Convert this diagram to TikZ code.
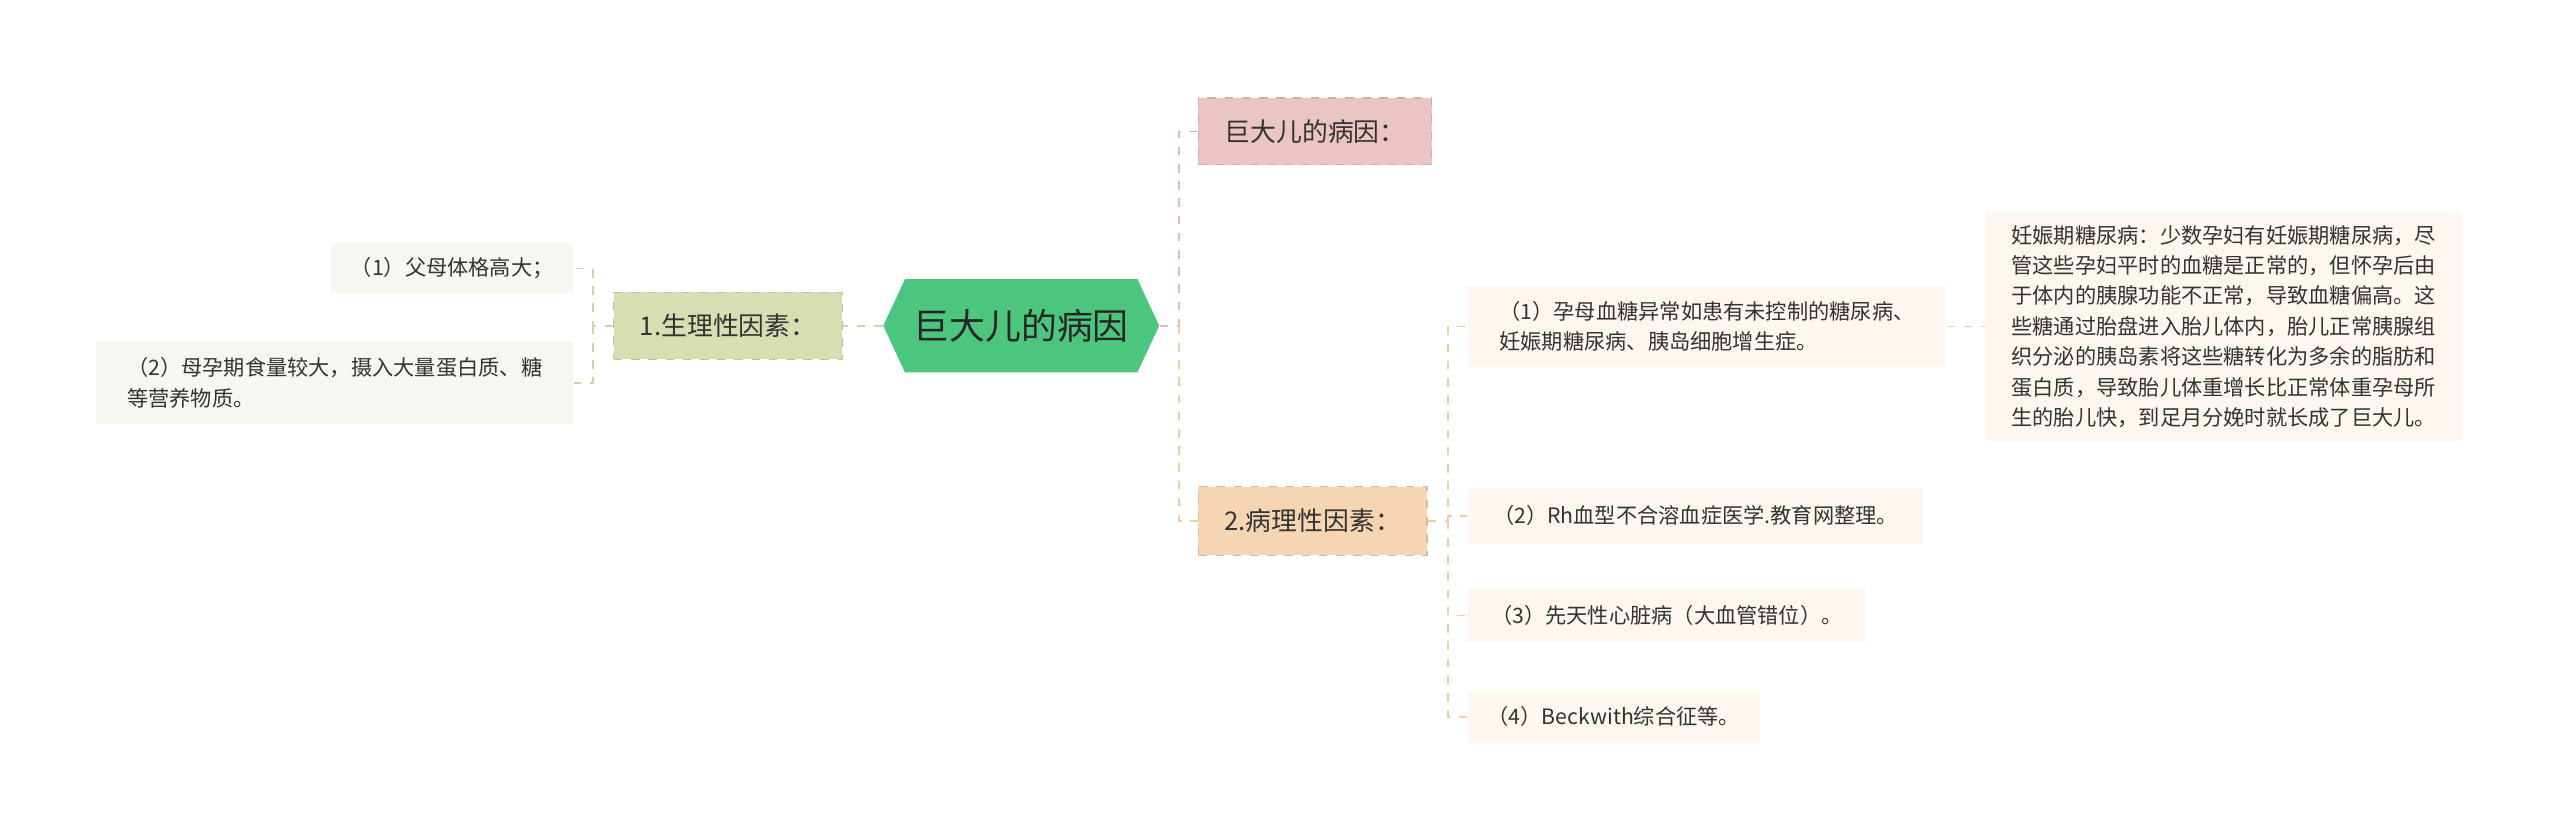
\documentclass[tikz,border=0pt]{standalone}
\usepackage{fontspec}
\setmainfont{Noto Sans CJK SC}
\usepackage{tikz}
\usetikzlibrary{shapes.symbols}
\definecolor{hexgreen}{HTML}{4CC67E}
\definecolor{pinkbox}{HTML}{EBC4C4}
\definecolor{orangebox}{HTML}{F6D6B2}
\definecolor{olivebox}{HTML}{D9DEB2}
\definecolor{leafgray}{HTML}{F7F7F1}
\definecolor{leafcream}{HTML}{FDF7EF}
\definecolor{linepink}{HTML}{E8B9B9}
\definecolor{lineorange}{HTML}{F0CDA8}
\definecolor{lineolive}{HTML}{CDD4A6}
\tikzset{
  topic/.style={draw=#1!70!gray, dashed, inner sep=0pt, font=\fontsize{9}{11}\selectfont, text=black!80},
  leaf/.style={fill=#1, inner sep=0pt, align=left, font=\fontsize{7.4}{10.6}\selectfont, text=black!80},
  link/.style={dashed, line width=0.6pt, draw=#1}
}
\begin{document}
\begin{tikzpicture}[x=0.02cm,y=-0.02cm]
\useasboundingbox (0,0) rectangle (1568,514);
% center
\node[signal, signal to=west and east, signal pointer angle=130, fill=hexgreen, minimum width=169*0.02cm, minimum height=57*0.02cm, inner sep=0pt, font=\fontsize{12.5}{14}\selectfont, text=black!85] (root) at (625.5,199.5) {巨大儿的病因};
% main topics
\node[topic=pinkbox, fill=pinkbox, minimum width=143*0.02cm, minimum height=41*0.02cm] (cause) at (805.5,80.5) {巨大儿的病因：};
\node[topic=orangebox, fill=orangebox, minimum width=140*0.02cm, minimum height=42*0.02cm] (path) at (804,319) {2.病理性因素：};
\node[topic=olivebox, fill=olivebox, minimum width=140*0.02cm, minimum height=41*0.02cm] (phys) at (446,199.5) {1.生理性因素：};
% left leaves
\node[leaf=leafgray, minimum width=148*0.02cm, minimum height=31*0.02cm] (l1) at (277,164.5) {（1）父母体格高大；};
\node[leaf=leafgray, minimum width=292*0.02cm, minimum height=51*0.02cm] (l2) at (205,234.5) {（2）母孕期食量较大，摄入大量蛋白质、糖\\等营养物质。};
% right leaves
\node[leaf=leafcream, minimum width=293*0.02cm, minimum height=50*0.02cm] (r1) at (1045.5,200) {（1）孕母血糖异常如患有未控制的糖尿病、\\妊娠期糖尿病、胰岛细胞增生症。};
\node[leaf=leafcream, minimum width=279*0.02cm, minimum height=34*0.02cm] (r2) at (1038.5,316) {（2）Rh血型不合溶血症医学.教育网整理。};
\node[leaf=leafcream, minimum width=244*0.02cm, minimum height=32*0.02cm] (r3) at (1021,377) {（3）先天性心脏病（大血管错位）。};
\node[leaf=leafcream, minimum width=179*0.02cm, minimum height=32*0.02cm] (r4) at (988.5,439) {（4）Beckwith综合征等。};
\node[leaf=leafcream, minimum width=292*0.02cm, minimum height=140*0.02cm] (detail) at (1362,200) {妊娠期糖尿病：少数孕妇有妊娠期糖尿病，尽\\管这些孕妇平时的血糖是正常的，但怀孕后由\\于体内的胰腺功能不正常，导致血糖偏高。这\\些糖通过胎盘进入胎儿体内，胎儿正常胰腺组\\织分泌的胰岛素将这些糖转化为多余的脂肪和\\蛋白质，导致胎儿体重增长比正常体重孕母所\\生的胎儿快，到足月分娩时就长成了巨大儿。};
% connectors
\coordinate (rj) at (722,199.5);
\draw[link=linepink] (root.east) -- (rj) |- (cause.west);
\draw[link=lineorange] (rj) |- (path.west);
\draw[link=lineolive] (root.west) -- (phys.east);
\coordinate (lj) at (363,199.5);
\draw[link=lineolive] (phys.west) -- (lj) |- (l1.east);
\draw[link=lineolive] (lj) |- (l2.east);
\coordinate (pj) at (887,319);
\draw[link=lineorange] (path.east) -- (pj) |- (r1.west);
\draw[link=lineorange] (pj) |- (r2.west);
\draw[link=lineorange] (pj) |- (r3.west);
\draw[link=lineorange] (pj) |- (r4.west);
\draw[link=lineorange] (r1.east) -- (detail.west);
\end{tikzpicture}
\end{document}
